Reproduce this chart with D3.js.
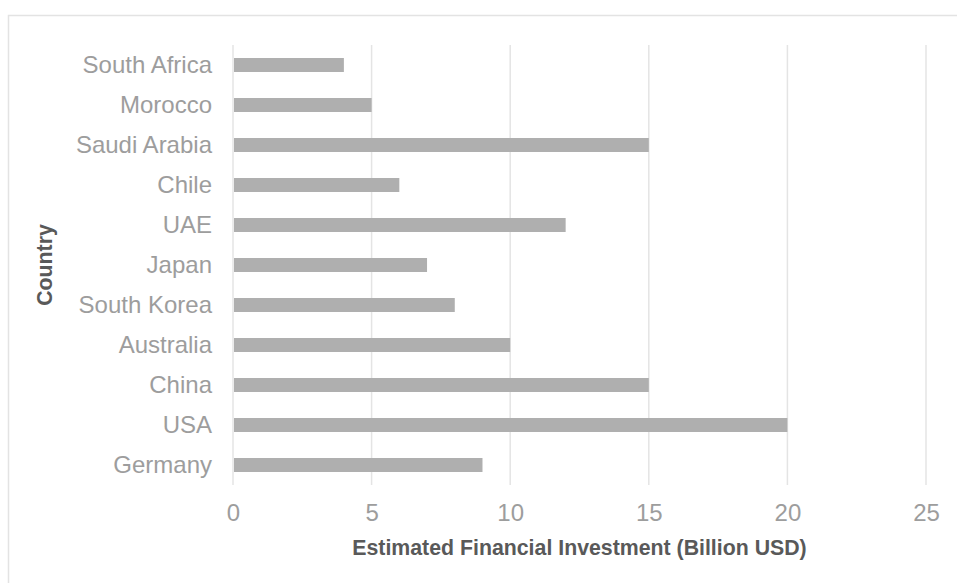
<!DOCTYPE html>
<html>
<head>
<meta charset="utf-8">
<script src="https://cdn.jsdelivr.net/npm/d3@7"></script>
<style>
    body { margin: 0; background: #fff; }
    svg { display: block; font-family: Arial, "Liberation Sans", sans-serif; }
</style>
</head>
<body>
<div id="chart"></div>
<script>
// Countries, top to bottom as drawn
const countries = ['South Africa', 'Morocco', 'Saudi Arabia', 'Chile', 'UAE', 'Japan',
    'South Korea', 'Australia', 'China', 'USA', 'Germany'];
const investment = [4, 5, 15, 6, 12, 7, 8, 10, 15, 20, 9];
const xTicks = [0, 5, 10, 15, 20, 25];

const width = 957;
const height = 583;
const margin = { top: 45, right: 31, bottom: 98, left: 233 };
const plotW = width - margin.left - margin.right;
const plotH = height - margin.top - margin.bottom;

const svg = d3.select('#chart').append('svg')
    .attr('width', width)
    .attr('height', height);

// chart frame
svg.append('rect')
    .attr('x', 8.5)
    .attr('y', 15.5)
    .attr('width', width)
    .attr('height', height)
    .style('fill', 'none')
    .style('stroke', '#e3e3e3')
    .style('stroke-width', 1.5);

const g = svg.append('g')
    .attr('transform', `translate(${margin.left},${margin.top})`);

const xScale = d3.scaleLinear()
    .domain([0, 25])
    .range([0, plotW]);

const yScale = d3.scaleBand()
    .domain(countries)
    .range([0, plotH])
    .paddingInner(0.65)
    .paddingOuter(0.325);

// vertical grid
g.selectAll('.grid')
    .data(xTicks)
    .enter().append('line')
    .attr('class', 'grid')
    .attr('x1', d => xScale(d))
    .attr('x2', d => xScale(d))
    .attr('y1', 0)
    .attr('y2', plotH)
    .style('stroke', '#e4e4e4')
    .style('stroke-width', 1.5);

// bars
g.selectAll('.bar')
    .data(countries)
    .enter().append('rect')
    .attr('class', 'bar')
    .attr('x', xScale(0) + 1)
    .attr('y', d => yScale(d))
    .attr('width', (d, i) => xScale(investment[i]) - xScale(0) - 1)
    .attr('height', yScale.bandwidth())
    .style('fill', '#afafaf');

// x axis
const xAxis = g.append('g')
    .attr('transform', `translate(0,${plotH})`)
    .call(d3.axisBottom(xScale).tickValues(xTicks).tickSize(0).tickPadding(19));
xAxis.select('.domain').remove();
xAxis.selectAll('text')
    .style('font-size', '24px')
    .style('fill', '#9d9d9d');

// y axis
const yAxis = g.append('g')
    .call(d3.axisLeft(yScale).tickSize(0).tickPadding(21));
yAxis.select('.domain').remove();
yAxis.selectAll('text')
    .style('font-size', '24px')
    .style('fill', '#9d9d9d');

// axis titles
svg.append('text')
    .attr('x', margin.left + plotW / 2)
    .attr('y', 555)
    .style('text-anchor', 'middle')
    .style('font-size', '21.3px')
    .style('font-weight', 'bold')
    .style('fill', '#595959')
    .text('Estimated Financial Investment (Billion USD)');

svg.append('text')
    .attr('transform', `translate(52,${margin.top + plotH / 2}) rotate(-90)`)
    .style('text-anchor', 'middle')
    .style('font-size', '21.3px')
    .style('font-weight', 'bold')
    .style('fill', '#595959')
    .text('Country');
</script>
</body>
</html>
